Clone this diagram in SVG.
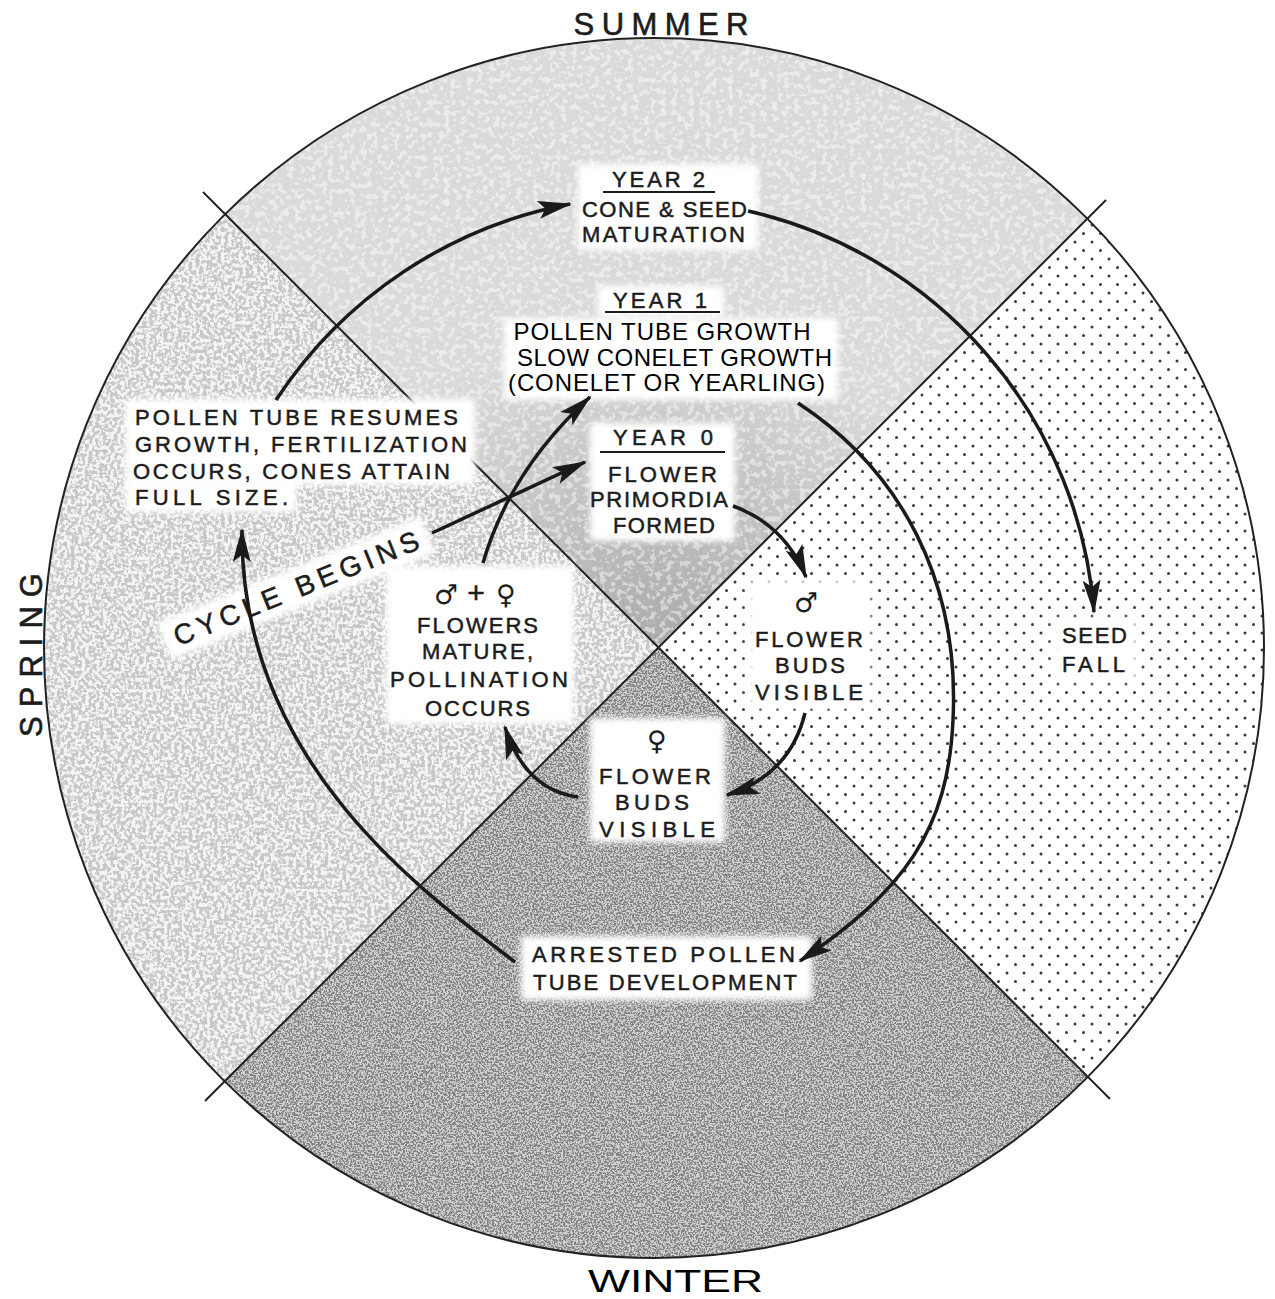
<svg xmlns="http://www.w3.org/2000/svg" width="1275" height="1299" viewBox="0 0 1275 1299">
<style>
.lt{font-family:"Liberation Sans",Arial,sans-serif;font-size:22px;fill:#1c1c1c;stroke:#1c1c1c;stroke-width:0.5;text-anchor:middle}
.ltl{font-family:"Liberation Sans",Arial,sans-serif;font-size:22px;fill:#1c1c1c;stroke:#1c1c1c;stroke-width:0.5;text-anchor:start}
.ar{font-family:"Liberation Sans",Arial,sans-serif;font-size:24px;fill:#000;text-anchor:middle}
.sym{font-family:"DejaVu Sans",sans-serif;font-size:27px;fill:#1c1c1c;text-anchor:middle}
.big{font-family:"Liberation Sans",Arial,sans-serif;font-size:31px;fill:#1c1c1c;stroke:#1c1c1c;stroke-width:0.6;text-anchor:middle}
.ul{stroke:#1c1c1c;stroke-width:2}
.bg{fill:#fff;filter:url(#soft)}
.con{fill:none;stroke:#1a1a1a;stroke-width:3.5;marker-end:url(#ah)}
.div{stroke:#222;stroke-width:2;fill:none}
</style>
<defs>
<clipPath id="circ"><circle cx="654" cy="648" r="610"/></clipPath>
<pattern id="dots" width="17" height="17" patternUnits="userSpaceOnUse">
<rect width="17" height="17" fill="#fff"/>
<circle cx="4" cy="4" r="1.5" fill="#3a3a3a"/>
<circle cx="12.5" cy="12.5" r="1.5" fill="#3a3a3a"/>
</pattern>
<filter id="nzB" filterUnits="userSpaceOnUse" x="0" y="0" width="1275" height="1299" color-interpolation-filters="sRGB">
<feTurbulence type="fractalNoise" baseFrequency="0.55" numOctaves="2" seed="7"/>
<feColorMatrix type="matrix" values="0 0 0 0 0.1  0 0 0 0 0.1  0 0 0 0 0.1  -9 0 0 0 5"/>
</filter>
<filter id="nzL" filterUnits="userSpaceOnUse" x="0" y="0" width="1275" height="1299" color-interpolation-filters="sRGB">
<feTurbulence type="fractalNoise" baseFrequency="0.28" numOctaves="2" seed="3"/>
<feColorMatrix type="matrix" values="0 0 0 0 0.1  0 0 0 0 0.1  0 0 0 0 0.1  -9 0 0 0 5"/>
</filter>
<filter id="nzT" filterUnits="userSpaceOnUse" x="0" y="0" width="1275" height="1299" color-interpolation-filters="sRGB">
<feTurbulence type="fractalNoise" baseFrequency="0.18" numOctaves="2" seed="11"/>
<feColorMatrix type="matrix" values="0 0 0 0 1  0 0 0 0 1  0 0 0 0 1  9 0 0 0 -4.6"/>
</filter>
<filter id="soft" x="-20%" y="-20%" width="140%" height="140%"><feGaussianBlur stdDeviation="3"/></filter>
<radialGradient id="cdark" gradientUnits="userSpaceOnUse" cx="658" cy="648" r="330">
<stop offset="0" stop-color="#000" stop-opacity="0.22"/>
<stop offset="1" stop-color="#000" stop-opacity="0"/>
</radialGradient>
<marker id="ah" markerUnits="userSpaceOnUse" viewBox="-34 -10 38 20" markerWidth="38" markerHeight="20" refX="0" refY="0" orient="auto">
<path d="M2,0 L-32,-9 L-25,0 L-32,9 Z" fill="#1a1a1a"/>
</marker>
</defs>

<rect width="1275" height="1299" fill="#fff"/>

<g id="quadrants" clip-path="url(#circ)">
<g id="q-summer">
<polygon points="658.5,647.5 0,-11 1306,0" fill="#dadada"/>
<polygon points="658.5,647.5 0,-11 1306,0" fill="url(#cdark)"/>
</g>
<g id="q-fall">
<polygon points="658.5,647.5 1306,0 1306,1295" fill="url(#dots)"/>
</g>
<g id="q-winter">
<clipPath id="cW"><polygon points="658.5,647.5 1306,1295 0,1306"/></clipPath>
<g clip-path="url(#cW)">
<rect width="1275" height="1299" fill="#d0d0d0"/>
<rect width="1275" height="1299" filter="url(#nzB)" opacity="0.42"/>
</g>
</g>
<g id="q-spring">
<clipPath id="cS"><polygon points="658.5,647.5 0,1306 0,-11"/></clipPath>
<g clip-path="url(#cS)">
<rect width="1275" height="1299" fill="#f4f4f4"/>
<rect width="1275" height="1299" filter="url(#nzL)" opacity="0.2"/>
</g>
</g>
<clipPath id="cT"><polygon points="658.5,647.5 0,-11 1306,0"/></clipPath>
<g clip-path="url(#cT)">
<rect width="1275" height="1299" filter="url(#nzT)" opacity="0.45"/>
</g>
</g>

<g id="dividers">
<line class="div" x1="203" y1="192" x2="1110" y2="1099"/>
<line class="div" x1="1106" y1="200" x2="205" y2="1101"/>
<circle class="div" cx="654" cy="648" r="610" stroke-width="2.5"/>
</g>

<g id="season-summer"><text class="big" x="661" y="35" textLength="175">SUMMER</text></g>
<g id="season-spring"><text class="big" transform="translate(30,655) rotate(-90)" x="0" y="12" textLength="164">SPRING</text></g>
<g id="season-winter"><text class="ar" x="675.5" y="1292" style="font-size:31px" textLength="175" lengthAdjust="spacingAndGlyphs">WINTER</text></g>

<g id="node-year2">
<rect class="bg" x="578" y="164" width="180" height="86"/>
<text class="lt" x="658.5" y="187" textLength="93">YEAR 2</text>
<line class="ul" x1="603" y1="192" x2="715" y2="192"/>
<text class="lt" x="664.5" y="217" textLength="165">CONE &amp; SEED</text>
<text class="lt" x="663.5" y="242" textLength="163">MATURATION</text>
</g>

<g id="node-year1">
<rect class="bg" x="598" y="286" width="126" height="30"/>
<rect class="bg" x="504" y="318" width="334" height="82"/>
<text class="lt" x="660" y="308" textLength="94">YEAR 1</text>
<line class="ul" x1="605" y1="312" x2="720" y2="312"/>
<text class="ar" x="662" y="340" textLength="297">POLLEN TUBE GROWTH</text>
<text class="ar" x="674.5" y="366" textLength="315">SLOW CONELET GROWTH</text>
<text class="ar" x="666.5" y="391" textLength="317">(CONELET OR YEARLING)</text>
</g>

<g id="node-year0">
<rect class="bg" x="590" y="423" width="145" height="118"/>
<text class="lt" x="663" y="445" textLength="100">YEAR 0</text>
<line class="ul" x1="600" y1="452" x2="725" y2="452"/>
<text class="lt" x="662.5" y="482" textLength="109">FLOWER</text>
<text class="lt" x="659" y="507" textLength="138">PRIMORDIA</text>
<text class="lt" x="664" y="533" textLength="102">FORMED</text>
</g>

<g id="node-resumes">
<rect class="bg" x="125" y="399" width="350" height="86"/>
<rect class="bg" x="125" y="480" width="172" height="32"/>
<text class="ltl" x="135" y="425" textLength="323">POLLEN TUBE RESUMES</text>
<text class="ltl" x="135" y="452" textLength="332">GROWTH, FERTILIZATION</text>
<text class="ltl" x="133" y="479" textLength="317">OCCURS, CONES ATTAIN</text>
<text class="ltl" x="135" y="505" textLength="153">FULL SIZE.</text>
</g>

<g id="node-flowers-mature">
<rect class="bg" x="386" y="566" width="188" height="158"/>
<text class="sym" x="446" y="604">♂</text>
<text class="lt" x="476" y="603" style="font-size:30px">+</text>
<text class="sym" x="506" y="604">♀</text>
<text class="lt" x="477.5" y="633" textLength="121">FLOWERS</text>
<text class="lt" x="477.5" y="659" textLength="111">MATURE,</text>
<text class="lt" x="479" y="687" textLength="178">POLLINATION</text>
<text class="lt" x="477.5" y="716" textLength="105">OCCURS</text>
</g>

<g id="node-male-buds">
<rect class="bg" x="748" y="580" width="122" height="128"/>
<text class="sym" x="806" y="612">♂</text>
<text class="lt" x="809" y="647" textLength="108">FLOWER</text>
<text class="lt" x="810" y="673" textLength="70">BUDS</text>
<text class="lt" x="809" y="700" textLength="108">VISIBLE</text>
</g>

<g id="node-seed-fall">
<rect class="bg" x="1053" y="619" width="84" height="62"/>
<text class="lt" x="1094.5" y="643" textLength="65">SEED</text>
<text class="lt" x="1093.5" y="672" textLength="63">FALL</text>
</g>

<g id="node-female-buds">
<rect class="bg" x="590" y="718" width="135" height="124"/>
<text class="sym" x="657" y="750">♀</text>
<text class="lt" x="655" y="784" textLength="112">FLOWER</text>
<text class="lt" x="652" y="810" textLength="74">BUDS</text>
<text class="lt" x="657" y="837" textLength="116">VISIBLE</text>
</g>

<g id="node-arrested">
<rect class="bg" x="521" y="936" width="291" height="64"/>
<text class="lt" x="663.5" y="962" textLength="263">ARRESTED POLLEN</text>
<text class="lt" x="665" y="990" textLength="264">TUBE DEVELOPMENT</text>
</g>

<g id="node-cycle-begins" transform="translate(296,588) rotate(-22)">
<rect class="bg" x="-142" y="-20" width="284" height="40"/>
<text class="lt" x="0" y="10" style="font-size:28px" textLength="262">CYCLE BEGINS</text>
</g>

<g id="connectors">
<path class="con" d="M276,400 A452,452 0 0 1 570,204"/>
<path class="con" d="M748,211 A446,446 0 0 1 1094,612"/>
<path class="con" d="M798,403 C900,470 960,580 953,720 C948,830 905,890 800,961"/>
<path class="con" d="M515,962 C420,890 240,760 242,530"/>
<path class="con" d="M733,506 Q785,525 806,577"/>
<path class="con" d="M805,713 Q790,775 727,795"/>
<path class="con" d="M578,797 Q525,790 505,727"/>
<path class="con" d="M483,563 Q510,470 590,397"/>
<path class="con" d="M432,533 L585,462"/>
</g>
</svg>
